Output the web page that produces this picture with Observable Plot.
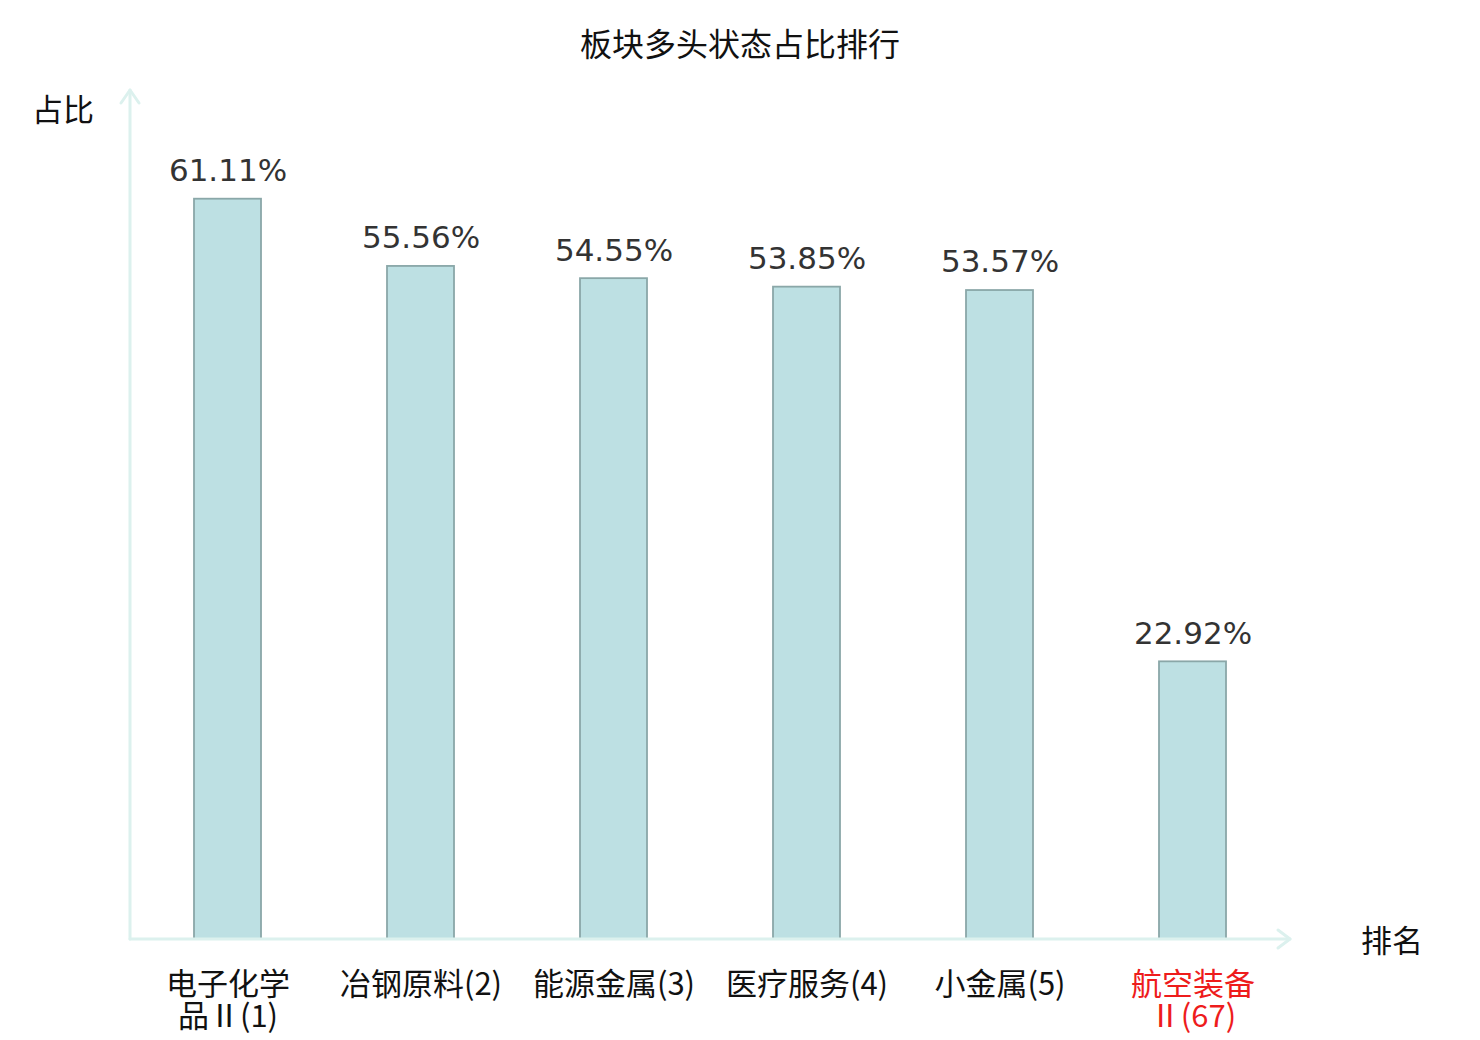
<!DOCTYPE html>
<html>
<head>
<meta charset="utf-8">
<script src="https://cdn.jsdelivr.net/npm/d3@7"></script>
<script src="https://cdn.jsdelivr.net/npm/@observablehq/plot@0.6"></script>
<style>
  body { margin: 0; background: #fff; }
  #title { width: 1480px; height: 70px; box-sizing: border-box; padding-top: 24px; font: 32px "Noto Sans CJK SC", sans-serif; line-height: 36px; text-align: center; color: #111; }
</style>
</head>
<body>
<div id="title">板块多头状态占比排行</div>
<div id="chart"></div>
<script>
const categories = ["电子化学品Ⅱ(1)", "冶钢原料(2)", "能源金属(3)", "医疗服务(4)", "小金属(5)", "航空装备Ⅱ(67)"];
const tickLabels = ["电子化学\n品Ⅱ(1)", "冶钢原料(2)", "能源金属(3)", "医疗服务(4)", "小金属(5)", "航空装备\nⅡ(67)"];
const values = [61.11, 55.56, 54.55, 53.85, 53.57, 22.92];
const highlighted = [false, false, false, false, false, true];
const yAxisLabel = "占比";
const xAxisLabel = "排名";

const data = categories.map((c, i) => ({cat: c, label: tickLabels[i], value: values[i], hi: highlighted[i]}));

const plot = Plot.plot({
  width: 1480,
  height: 970,
  marginLeft: 130,
  marginRight: 190,
  marginTop: 21,
  marginBottom: 101,
  x: {domain: categories, padding: 0, axis: null},
  y: {domain: [0, 70], axis: null},
  marks: [
    Plot.barY(data, {x: "cat", y: "value", fill: "#bde0e3", stroke: "#8aa7a8", strokeWidth: 1.8, insetLeft: 63, insetRight: 63}),
    Plot.text(data, {x: "cat", y: "value", text: d => d.value.toFixed(2) + "%", lineAnchor: "middle", dy: -28, fontSize: 31, fontFamily: "DejaVu Sans", fill: "#333"}),
    Plot.text(data, {x: "cat", y: 0, text: "label", lineAnchor: "top", dy: 32, lineHeight: 1.05, fontSize: 31, fontFamily: "Noto Sans CJK SC", fill: d => d.hi ? "#ee1c1c" : "#111"})
  ]
});
document.getElementById("chart").appendChild(plot);

const svg = d3.select(plot);
const xr = plot.scale("x").range;
const yr = plot.scale("y").range; // [bottom, top]
const x0 = xr[0], x1 = xr[1], yb = yr[0], yt = yr[1];
const axisColor = "#dcf1ee";
const g = svg.append("g").attr("fill", "none").attr("stroke", axisColor).attr("stroke-width", 3).attr("stroke-linecap", "round").attr("stroke-linejoin", "round");
g.append("path").attr("d", `M${x0},${yb}V${yt - 1}`);
g.append("path").attr("d", `M${x0 - 9},${yt + 12}L${x0},${yt - 1}L${x0 + 9},${yt + 12}`);
g.append("path").attr("d", `M${x0},${yb}H${x1}`);
g.append("path").attr("d", `M${x1 - 12},${yb - 9}L${x1},${yb}L${x1 - 12},${yb + 9}`);

svg.append("text").attr("x", 63).attr("y", yt + 19 + 11).attr("text-anchor", "middle")
  .attr("font-size", 31).attr("font-family", "Noto Sans CJK SC").attr("fill", "#111").text(yAxisLabel);
svg.append("text").attr("x", 1392).attr("y", yb + 2 + 11).attr("text-anchor", "middle")
  .attr("font-size", 31).attr("font-family", "Noto Sans CJK SC").attr("fill", "#111").text(xAxisLabel);
</script>
</body>
</html>
